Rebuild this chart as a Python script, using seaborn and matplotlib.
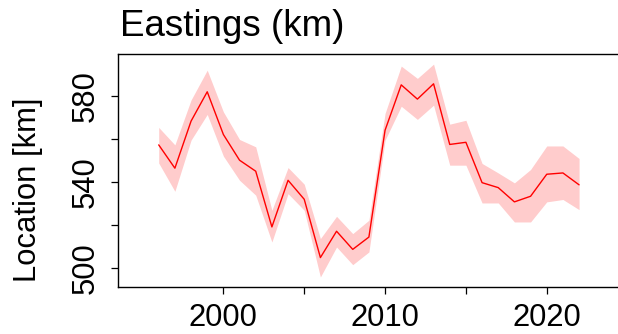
import numpy as np
import pandas as pd
import matplotlib
matplotlib.use("Agg")
import matplotlib.pyplot as plt
import seaborn as sns

# ---- data ----
years = [1996, 1997, 1998, 1999, 2000, 2001, 2002, 2003, 2004, 2005, 2006, 2007, 2008,
         2009, 2010, 2011, 2012, 2013, 2014, 2015, 2016, 2017, 2018, 2019, 2020, 2021, 2022]
location = [557.2, 546.4, 568.2, 581.8, 562.0, 550.1, 545.0, 519.2, 540.8, 532.0, 505.0, 517.2, 508.8,
            514.5, 564.0, 585.0, 578.4, 585.5, 557.4, 558.4, 539.7, 537.4, 530.8, 533.4, 543.6, 544.2, 538.7]
upper = [565.3, 557.2, 578.0, 591.8, 572.5, 559.7, 556.3, 526.9, 546.7, 539.0, 513.8, 524.1, 516.1,
         522.3, 571.8, 593.7, 588.0, 594.6, 566.8, 568.6, 548.6, 544.2, 539.6, 545.8, 556.7, 556.7, 550.9]
lower = [548.8, 535.7, 559.4, 571.3, 552.0, 540.8, 533.9, 512.2, 534.6, 526.9, 496.0, 509.9, 501.7,
         507.6, 559.4, 575.1, 569.0, 575.6, 547.8, 547.8, 530.3, 530.3, 521.5, 521.5, 530.8, 531.9, 527.2]
title = "Eastings (km)"
ylabel = "Location [km]"
x_major = [2000, 2010, 2020]
x_minor = [2005, 2015]
y_major = [500, 540, 580]
y_minor = [520, 560]

df = pd.DataFrame({"year": years, "location": location, "lower": lower, "upper": upper})

sns.set_theme(style="white")
plt.rcParams["font.family"] = ["Liberation Sans", "DejaVu Sans"]

W, H = 618, 334
fig = plt.figure(figsize=(W / 100, H / 100), dpi=100)
left_px, right_px, top_px, bot_px = 118.3, 619.5, 54.0, 286.5
ax = fig.add_axes([left_px / W, 1 - bot_px / H, (right_px - left_px) / W, (bot_px - top_px) / H])

ax.fill_between(df["year"], df["lower"], df["upper"], color="#FFCCCC", linewidth=0, zorder=1)
sns.lineplot(data=df, x="year", y="location", color="#FF0000", linewidth=1.0, ax=ax, zorder=2)

ax.set_xlim(1993.5, 2024.5)
ax.set_ylim(491.6, 599.3)

ax.set_xticks(x_major)
ax.set_xticklabels([str(v) for v in x_major])
ax.set_xticks(x_minor, minor=True)
ax.set_yticks(y_major)
ax.set_yticklabels([str(v) for v in y_major], rotation=90, va="center")
ax.set_yticks(y_minor, minor=True)

ax.tick_params(axis="both", which="both", direction="out", length=5.0, width=0.9,
               color="black", bottom=True, left=True)
ax.tick_params(axis="x", which="major", labelsize=22.3, pad=7.0, labelcolor="black")
ax.tick_params(axis="y", which="major", labelsize=22.3, pad=7.9, labelcolor="black")

ax.set_xlabel("")
ax.set_ylabel("")
for s in ["left", "bottom", "top", "right"]:
    ax.spines[s].set_color("black")
    ax.spines[s].set_linewidth(1.0)
ax.spines["right"].set_visible(False)

fig.text(120.0 / W, 1 - 36.0 / H, title, fontsize=26.5, ha="left", va="baseline", color="black")
fig.text(28.3 / W, 1 - 189.5 / H, ylabel, fontsize=22.3, rotation=90, ha="center", va="center",
         color="black")

fig.savefig("out.png", dpi=100)
